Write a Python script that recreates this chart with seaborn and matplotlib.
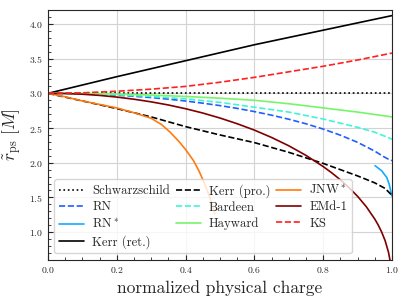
import numpy as np
import pandas as pd
import seaborn as sns
import matplotlib.pyplot as plt

# values
q_schw = [0.0, 1.0]
r_schw = [3.0, 3.0]

q_rn = [0.0, 0.05, 0.1, 0.15, 0.2, 0.25, 0.3, 0.35, 0.4, 0.45, 0.5, 0.55, 0.6, 0.65,
        0.7, 0.75, 0.8, 0.85, 0.9, 0.95, 0.975, 0.99, 1.0]
r_rn = [3.0, 2.998, 2.993, 2.985, 2.973, 2.958, 2.939, 2.916, 2.889, 2.858, 2.823, 2.783,
        2.737, 2.685, 2.627, 2.561, 2.485, 2.397, 2.294, 2.167, 2.09, 2.05, 2.03]

q_rn_star = [0.951, 0.970, 0.985, 0.992, 0.997, 1.0]
r_rn_star = [1.957, 1.884, 1.787, 1.691, 1.58, 1.52]

q_kerr_ret = [0.0, 0.2, 0.4, 0.6, 0.8, 1.0]
r_kerr_ret = [3.0, 3.24, 3.47, 3.70, 3.91, 4.12]

q_kerr_pro = [0.0, 0.1, 0.2, 0.3, 0.4, 0.5, 0.6, 0.7, 0.8, 0.9, 0.95, 0.98, 1.0]
r_kerr_pro = [3.0, 2.89, 2.78, 2.66, 2.52, 2.40, 2.29, 2.15, 1.99, 1.81, 1.71, 1.63, 1.53]

q_bardeen = [0.0, 0.1, 0.2, 0.3, 0.4, 0.5, 0.6, 0.7, 0.8, 0.9, 0.95, 1.0]
r_bardeen = [3.0, 2.995, 2.98, 2.955, 2.92, 2.87, 2.80, 2.73, 2.63, 2.51, 2.44, 2.34]

q_hayward = [0.0, 0.1, 0.2, 0.3, 0.4, 0.5, 0.6, 0.7, 0.8, 0.9, 1.0]
r_hayward = [3.0, 2.998, 2.99, 2.975, 2.955, 2.93, 2.90, 2.85, 2.79, 2.73, 2.66]

q_jnw = [0.0, 0.05, 0.1, 0.15, 0.2, 0.25, 0.3, 0.33, 0.355, 0.38, 0.4, 0.423, 0.44,
         0.455, 0.47, 0.485]
r_jnw = [3.0, 2.95, 2.89, 2.84, 2.79, 2.72, 2.64, 2.55, 2.44, 2.31, 2.19, 2.03, 1.87,
         1.70, 1.51, 1.26]

q_emd = [0.0, 0.05, 0.1, 0.15, 0.2, 0.25, 0.3, 0.35, 0.4, 0.45, 0.5, 0.55, 0.6, 0.65,
         0.7, 0.75, 0.8, 0.825, 0.85, 0.875, 0.9, 0.925, 0.95, 0.96, 0.97, 0.98, 0.99,
         0.995, 1.0]
r_emd = [3.0, 2.997, 2.987, 2.970, 2.946, 2.915, 2.877, 2.832, 2.778, 2.716, 2.644,
         2.562, 2.470, 2.364, 2.244, 2.106, 1.945, 1.854, 1.754, 1.642, 1.516, 1.369,
         1.189, 1.103, 1.002, 0.879, 0.709, 0.578, 0.0]

q_ks = [0.0, 0.1, 0.2, 0.3, 0.4, 0.5, 0.6, 0.7, 0.8, 0.9, 1.0]
r_ks = [3.0, 3.007, 3.03, 3.06, 3.10, 3.16, 3.23, 3.31, 3.39, 3.48, 3.58]

sns.set_style("ticks")
plt.rcParams['font.family'] = ['cmr10']
plt.rcParams['mathtext.fontset'] = 'cm'
plt.rcParams['axes.formatter.use_mathtext'] = True
plt.rcParams['axes.unicode_minus'] = False

fig, ax = plt.subplots(figsize=(4.07, 3.05), dpi=100)

series = [
    (q_schw, r_schw, "Schwarzschild", "black", ":"),
    (q_rn, r_rn, "RN", "#1f5fff", "--"),
    (q_rn_star, r_rn_star, r"RN$^*$", "#14aaff", "-"),
    (q_kerr_ret, r_kerr_ret, "Kerr (ret.)", "black", "-"),
    (q_kerr_pro, r_kerr_pro, "Kerr (pro.)", "black", "--"),
    (q_bardeen, r_bardeen, "Bardeen", "#3ff5d5", "--"),
    (q_hayward, r_hayward, "Hayward", "#77f56a", "-"),
    (q_jnw, r_jnw, r"JNW$^*$", "#ff7a10", "-"),
    (q_emd, r_emd, "EMd-1", "#800000", "-"),
    (q_ks, r_ks, "KS", "#ff2020", "--"),
]

for q, r, name, col, ls in series:
    sns.lineplot(x=q, y=r, ax=ax, color=col, linestyle=ls, linewidth=1.2,
                 label=name, sort=False)

ax.set_xlim(0, 1)
ax.set_ylim(0.6, 4.2)
ax.set_xticks(np.arange(0, 1.01, 0.2))
ax.set_yticks(np.arange(1.0, 4.01, 0.5))
ax.set_xticks(np.arange(0, 1.001, 0.05), minor=True)
ax.set_yticks(np.arange(0.6, 4.201, 0.1), minor=True)
ax.tick_params(which='both', direction='in', labelsize=7)
ax.tick_params(which='major', length=3.5, width=0.8)
ax.tick_params(which='minor', length=2, width=0.6)
ax.grid(True, which='major', color='#d3d3d3', linewidth=0.8)

ax.set_xlabel("normalized physical charge", fontsize=12.5)
ax.set_ylabel(r"$\tilde{r}_{\rm ps}\ [M]$", fontsize=12.5)

ax.legend(loc='lower left', ncol=3, fontsize=9.2, framealpha=0.8,
          handlelength=1.95, handletextpad=0.65, columnspacing=0.45,
          labelspacing=0.32, borderpad=0.35)

fig.subplots_adjust(left=0.118, right=0.963, top=0.967, bottom=0.148)
fig.savefig("out.png", dpi=100)
